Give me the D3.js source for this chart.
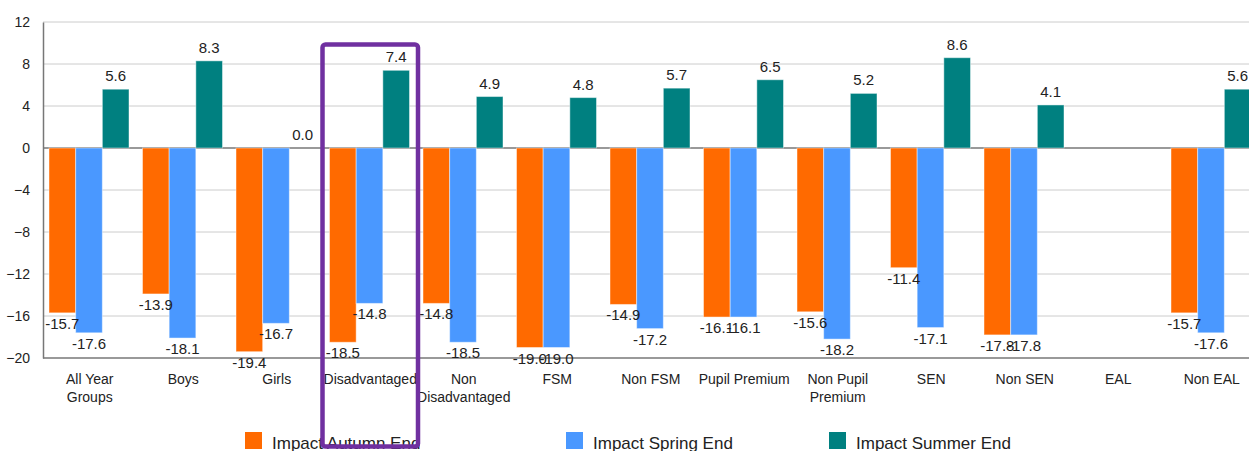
<!DOCTYPE html>
<html>
<head>
<meta charset="utf-8">
<script src="https://cdn.jsdelivr.net/npm/d3@7"></script>
<style>
  body { margin: 0; background: #fff; }
  svg text { font-family: "Liberation Sans", Arial, sans-serif; }
</style>
</head>
<body>
<script>
// Chart data
var categories = ["All Year Groups", "Boys", "Girls", "Disadvantaged", "Non Disadvantaged",
    "FSM", "Non FSM", "Pupil Premium", "Non Pupil Premium", "SEN", "Non SEN", "EAL", "Non EAL"];
var autumnEnd = [-15.7, -13.9, -19.4, -18.5, -14.8, -19.0, -14.9, -16.1, -15.6, -11.4, -17.8, null, -15.7];
var springEnd = [-17.6, -18.1, -16.7, -14.8, -18.5, -19.0, -17.2, -16.1, -18.2, -17.1, -17.8, null, -17.6];
var summerEnd = [5.6, 8.3, 0.0, 7.4, 4.9, 4.8, 5.7, 6.5, 5.2, 8.6, 4.1, null, 5.6];
var seriesNames = ["Impact Autumn End", "Impact Spring End", "Impact Summer End"];
var yTicks = [12, 8, 4, 0, -4, -8, -12, -16, -20];
var highlighted = "Disadvantaged";

var width = 1249, height = 451;
var colors = ["#ff6a00", "#4a98ff", "#008080"];
var seriesValues = [autumnEnd, springEnd, summerEnd];

var svg = d3.select("body").append("svg")
    .attr("width", width)
    .attr("height", height);

// plot area runs a little past the right edge, like the original
var x = d3.scaleBand().domain(categories).range([43, 1258.5]).paddingInner(0).paddingOuter(0);
var inner = d3.scaleBand().domain(d3.range(3)).range([6, x.bandwidth() - 7.5]);
var y = d3.scaleLinear().domain([-20, 12]).range([358, 22]);

// grid lines
svg.append("g").selectAll("line")
    .data(yTicks)
    .enter().append("line")
    .attr("x1", 43).attr("x2", width)
    .attr("y1", d => y(d)).attr("y2", d => y(d))
    .attr("stroke", d => (d === 0 || d === -20) ? "#777" : "#ccc")
    .attr("stroke-width", d => (d === 0 || d === -20) ? 1.5 : 1);

// y axis
var yAxis = svg.append("g")
    .attr("transform", "translate(43,0)")
    .call(d3.axisLeft(y).tickValues(yTicks).tickSize(0).tickPadding(13));
yAxis.select(".domain").attr("stroke", "#777").attr("stroke-width", 1.5);
yAxis.selectAll("text").attr("font-size", 14).attr("fill", "#222")
    .attr("font-family", "Liberation Sans, Arial, sans-serif");

// bars
var groups = svg.append("g").selectAll("g")
    .data(categories)
    .enter().append("g")
    .attr("transform", d => "translate(" + x(d) + ",0)");

seriesValues.forEach(function (vals, s) {
    groups.filter((d, i) => vals[i] !== null)
        .append("rect")
        .attr("x", inner(s))
        .attr("width", inner.bandwidth())
        .attr("y", (d, i) => y(Math.max(0, vals[categories.indexOf(d)])))
        .attr("height", d => Math.abs(y(vals[categories.indexOf(d)]) - y(0)))
        .attr("fill", colors[s])
        .attr("stroke", "#fff")
        .attr("stroke-opacity", 0.45)
        .attr("stroke-width", 1);
});

// value labels
seriesValues.forEach(function (vals, s) {
    groups.filter(d => vals[categories.indexOf(d)] !== null)
        .append("text")
        .attr("x", inner(s) + inner.bandwidth() / 2)
        .attr("y", function (d) {
            var v = vals[categories.indexOf(d)];
            return v >= 0 ? y(v) - 8 : y(v) + 16;
        })
        .attr("text-anchor", "middle")
        .attr("font-size", 15)
        .attr("fill", "#222")
        .text(d => vals[categories.indexOf(d)].toFixed(1));
});

// category labels, wrapped to fit the band
var catLabels = svg.append("g").selectAll("text")
    .data(categories)
    .enter().append("text")
    .attr("x", d => x(d) + x.bandwidth() / 2)
    .attr("y", 384)
    .attr("text-anchor", "middle")
    .attr("font-size", 14)
    .attr("fill", "#222");

catLabels.each(function (d) {
    var el = d3.select(this);
    var words = d.split(" ");
    var lines = [], line = [];
    words.forEach(function (w) {
        line.push(w);
        el.text(line.join(" "));
        if (this.getComputedTextLength() > 95 && line.length > 1) {
            line.pop();
            lines.push(line.join(" "));
            line = [w];
        }
    }, this);
    lines.push(line.join(" "));
    el.text(null);
    lines.forEach(function (l, i) {
        el.append("tspan")
            .attr("x", x(d) + x.bandwidth() / 2)
            .attr("dy", i === 0 ? 0 : 18)
            .text(l);
    });
});

// legend
var legendX = [245, 566, 829];
var legend = svg.append("g").selectAll("g")
    .data(seriesNames)
    .enter().append("g")
    .attr("transform", (d, i) => "translate(" + legendX[i] + ",432)");
legend.append("rect")
    .attr("width", 17).attr("height", 17)
    .attr("fill", (d, i) => colors[i]);
legend.append("text")
    .attr("x", 27).attr("y", 17)
    .attr("font-size", 17)
    .attr("fill", "#222")
    .text(d => d);

// purple highlight box around one category
svg.append("rect")
    .attr("x", x(highlighted) - 1)
    .attr("y", 44.5)
    .attr("width", x.bandwidth() + 2)
    .attr("height", 402)
    .attr("rx", 3)
    .attr("fill", "none")
    .attr("stroke", "#7030a0")
    .attr("stroke-width", 4.5);
</script>
</body>
</html>
